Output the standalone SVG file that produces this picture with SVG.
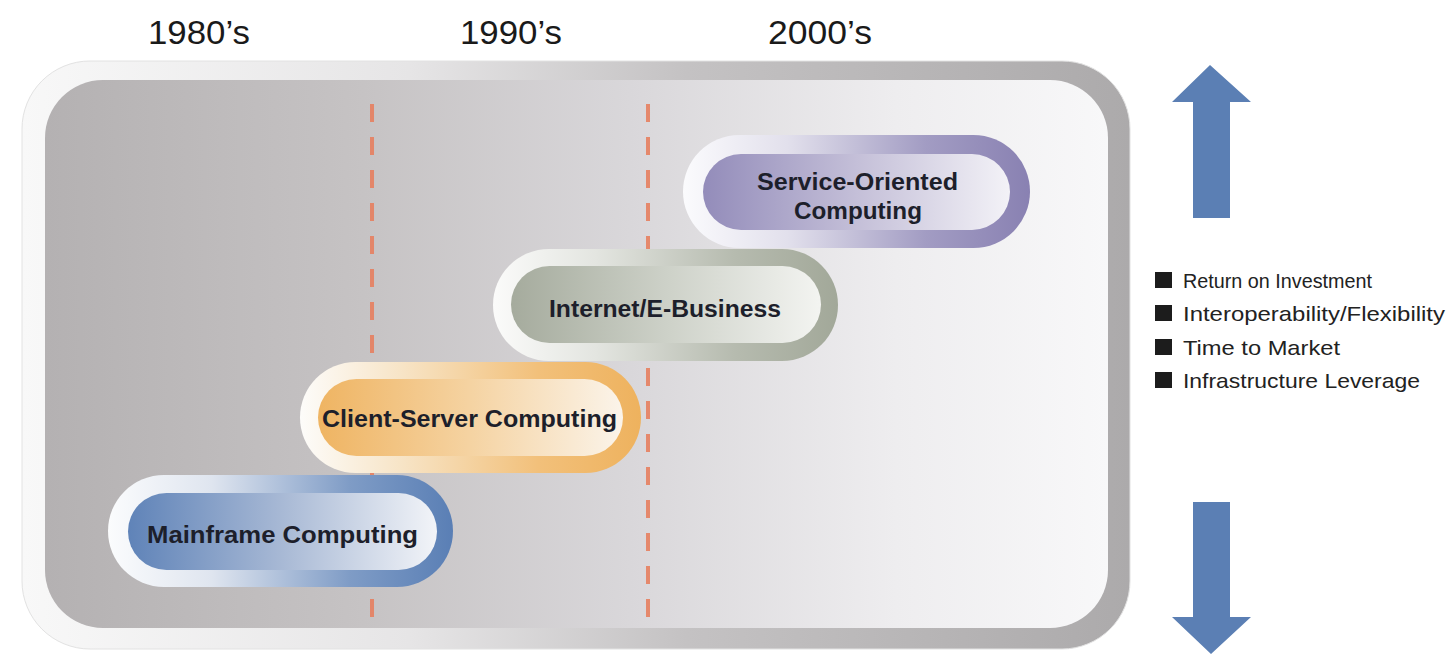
<svg xmlns="http://www.w3.org/2000/svg" width="1447" height="655" viewBox="0 0 1447 655">
  <defs>
    <linearGradient id="frameGrad" x1="0" y1="0" x2="1" y2="0">
      <stop offset="0" stop-color="#f8f8f8"/>
      <stop offset="0.35" stop-color="#e6e5e6"/>
      <stop offset="0.6" stop-color="#c4c2c3"/>
      <stop offset="1" stop-color="#acaaab"/>
    </linearGradient>
    <linearGradient id="innerGrad" x1="0" y1="0" x2="1" y2="0">
      <stop offset="0" stop-color="#b4b1b2"/>
      <stop offset="0.3" stop-color="#c6c3c4"/>
      <stop offset="0.55" stop-color="#d9d7da"/>
      <stop offset="0.8" stop-color="#eeedef"/>
      <stop offset="1" stop-color="#f8f8f9"/>
    </linearGradient>
    <linearGradient id="ringBlue" x1="0" y1="0" x2="1" y2="0">
      <stop offset="0" stop-color="#fbfcfd"/>
      <stop offset="0.3" stop-color="#dfe5ef"/>
      <stop offset="0.7" stop-color="#7f9cc6"/>
      <stop offset="1" stop-color="#5a7fb5"/>
    </linearGradient>
    <linearGradient id="fillBlue" x1="0" y1="0" x2="1" y2="0">
      <stop offset="0" stop-color="#5f83b8"/>
      <stop offset="0.5" stop-color="#a8b9d5"/>
      <stop offset="1" stop-color="#f2f4f8"/>
    </linearGradient>
    <linearGradient id="ringOrange" x1="0" y1="0" x2="1" y2="0">
      <stop offset="0" stop-color="#fdfcfa"/>
      <stop offset="0.3" stop-color="#f7e4c6"/>
      <stop offset="0.7" stop-color="#f2c07a"/>
      <stop offset="1" stop-color="#eeb25e"/>
    </linearGradient>
    <linearGradient id="fillOrange" x1="0" y1="0" x2="1" y2="0">
      <stop offset="0" stop-color="#efb462"/>
      <stop offset="0.5" stop-color="#f5d3a2"/>
      <stop offset="1" stop-color="#fbf4ea"/>
    </linearGradient>
    <linearGradient id="ringSage" x1="0" y1="0" x2="1" y2="0">
      <stop offset="0" stop-color="#fbfbfa"/>
      <stop offset="0.3" stop-color="#e3e5e0"/>
      <stop offset="0.7" stop-color="#b6bbaf"/>
      <stop offset="1" stop-color="#a2a899"/>
    </linearGradient>
    <linearGradient id="fillSage" x1="0" y1="0" x2="1" y2="0">
      <stop offset="0" stop-color="#a5ab9d"/>
      <stop offset="0.5" stop-color="#cdd1c8"/>
      <stop offset="1" stop-color="#f3f4f1"/>
    </linearGradient>
    <linearGradient id="ringPurple" x1="0" y1="0" x2="1" y2="0">
      <stop offset="0" stop-color="#fbfbfd"/>
      <stop offset="0.3" stop-color="#e2e0ec"/>
      <stop offset="0.7" stop-color="#a29cc3"/>
      <stop offset="1" stop-color="#8981b2"/>
    </linearGradient>
    <linearGradient id="fillPurple" x1="0" y1="0" x2="1" y2="0">
      <stop offset="0" stop-color="#938cba"/>
      <stop offset="0.5" stop-color="#c4bfd8"/>
      <stop offset="1" stop-color="#f3f2f7"/>
    </linearGradient>
  </defs>
  <style>
    .year { font-family: "Liberation Sans", Arial, sans-serif; font-size: 33px; fill: #1a1a1a; }
    .label { font-family: "Liberation Sans", Arial, sans-serif; font-size: 23px; font-weight: bold; fill: #1d1f2b; }
    .legend { font-family: "Liberation Sans", Arial, sans-serif; font-size: 21px; fill: #222222; }
    .bullet { fill: #1c1c1c; }
    .divider { stroke: #e5805f; stroke-width: 4; stroke-dasharray: 18 15; fill: none; opacity: 0.9; }
    .arrow { fill: #5b7fb4; }
  </style>

  <rect width="1447" height="655" fill="#ffffff"/>

  <g id="years">
    <text class="year" x="148" y="44" textLength="102" lengthAdjust="spacingAndGlyphs">1980’s</text>
    <text class="year" x="460" y="44" textLength="102" lengthAdjust="spacingAndGlyphs">1990’s</text>
    <text class="year" x="768" y="44" textLength="104" lengthAdjust="spacingAndGlyphs">2000’s</text>
  </g>

  <g id="frame">
    <rect x="22" y="61" width="1108" height="588" rx="68" ry="68" fill="url(#frameGrad)" stroke="#e2e2e2" stroke-width="1"/>
    <rect x="45" y="80" width="1063" height="548" rx="58" ry="58" fill="url(#innerGrad)"/>
  </g>

  <g id="connectors">
    <line class="divider" x1="372" y1="104" x2="372" y2="622"/>
    <line class="divider" x1="648" y1="104" x2="648" y2="622"/>
  </g>

  <g id="node-service-oriented">
    <rect x="683" y="135" width="347" height="113" rx="56.5" fill="url(#ringPurple)"/>
    <rect x="703" y="154" width="307" height="76" rx="38" fill="url(#fillPurple)"/>
    <text class="label" x="757" y="190" textLength="201" lengthAdjust="spacingAndGlyphs">Service-Oriented</text>
    <text class="label" x="794" y="219" textLength="128" lengthAdjust="spacingAndGlyphs">Computing</text>
  </g>

  <g id="node-internet">
    <rect x="493" y="249" width="345" height="112" rx="56" fill="url(#ringSage)"/>
    <rect x="511" y="266" width="310" height="77" rx="38.5" fill="url(#fillSage)"/>
    <text class="label" x="549" y="317" textLength="232" lengthAdjust="spacingAndGlyphs">Internet/E-Business</text>
  </g>

  <g id="node-client-server">
    <rect x="300" y="362" width="341" height="111" rx="55.5" fill="url(#ringOrange)"/>
    <rect x="318" y="379" width="305" height="77" rx="38.5" fill="url(#fillOrange)"/>
    <text class="label" x="322" y="427" textLength="295" lengthAdjust="spacingAndGlyphs">Client-Server Computing</text>
  </g>

  <g id="node-mainframe">
    <rect x="108" y="475" width="345" height="112" rx="56" fill="url(#ringBlue)"/>
    <rect x="128" y="493" width="309" height="77" rx="38.5" fill="url(#fillBlue)"/>
    <text class="label" x="147" y="543" textLength="271" lengthAdjust="spacingAndGlyphs">Mainframe Computing</text>
  </g>

  <g id="arrow-up">
    <polygon class="arrow" points="1210,65 1251,102 1230,102 1230,218 1193,218 1193,102 1172,102"/>
  </g>
  <g id="arrow-down">
    <polygon class="arrow" points="1193,502 1230,502 1230,617 1251,617 1211,654 1172,617 1193,617"/>
  </g>

  <g id="legend">
    <rect class="bullet" x="1155" y="272" width="17" height="16"/>
    <text class="legend" x="1183" y="288" textLength="189" lengthAdjust="spacingAndGlyphs">Return on Investment</text>
    <rect class="bullet" x="1155" y="305" width="17" height="16"/>
    <text class="legend" x="1183" y="321" textLength="262" lengthAdjust="spacingAndGlyphs">Interoperability/Flexibility</text>
    <rect class="bullet" x="1155" y="339" width="17" height="16"/>
    <text class="legend" x="1183" y="355" textLength="157" lengthAdjust="spacingAndGlyphs">Time to Market</text>
    <rect class="bullet" x="1155" y="372" width="17" height="16"/>
    <text class="legend" x="1183" y="388" textLength="237" lengthAdjust="spacingAndGlyphs">Infrastructure Leverage</text>
  </g>
</svg>
